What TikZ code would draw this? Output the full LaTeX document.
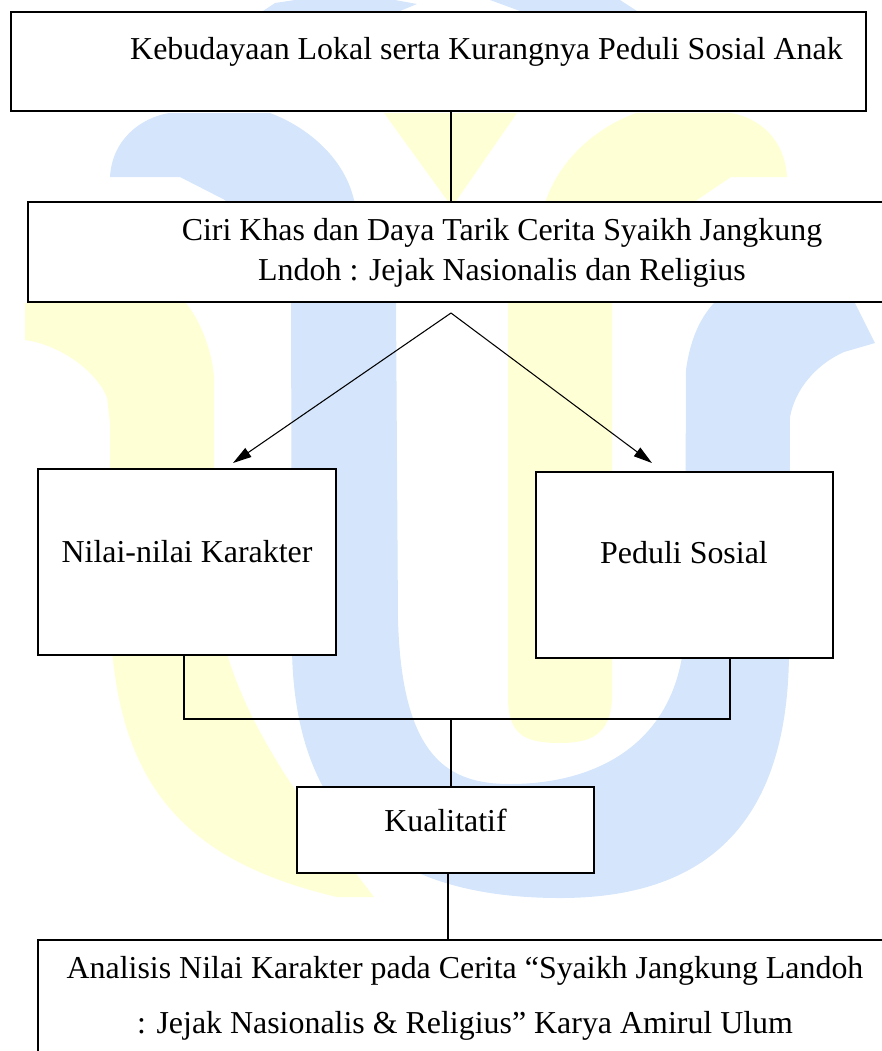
\documentclass[tikz,border=0pt]{standalone}
\usepackage{fontspec}
\setmainfont{Liberation Serif}
\usepackage{tikz}
\usetikzlibrary{arrows.meta,calc}
\definecolor{wmblue}{RGB}{212,229,252}
\definecolor{wmyellow}{RGB}{255,255,214}
\tikzstyle{box}=[draw,fill=white,line width=0.85pt,inner sep=0pt]
\tikzstyle{txt}=[font=\fontsize{12}{15}\selectfont,align=center,inner sep=0pt]
\tikzstyle{link}=[draw,line width=0.65pt]
\tikzstyle{edge}=[draw,line width=0.4pt,-{Triangle[length=7pt,width=4pt]}]
\begin{document}
\begin{tikzpicture}[x=0.376pt,y=-0.376pt]
    \useasboundingbox (0,0) rectangle (882,1051);

    % watermark
    \fill[wmblue] (263,11) -- (275,3) -- (295,0) -- (395,0) -- (417,4) -- (400,11) -- cycle;
    \fill[wmblue] (490,0) -- (620,0) -- (637,11) -- (520,11) -- cycle;
    \fill[wmblue] (169,113) -- (270,113) .. controls (310,128) and (345,160) .. (354,200)
        -- (396,302) -- (398,620) .. controls (402,760) and (450,784) .. (510,784)
        .. controls (600,784) and (685,740) .. (685,620) -- (686,370)
        .. controls (690,340) and (700,318) .. (714,303) -- (855,303) -- (875,343) -- (844,352)
        .. controls (815,365) and (795,390) .. (790,417) -- (789,650)
        .. controls (789,830) and (700,898) .. (560,898) .. controls (400,898) and (295,830) .. (292,650)
        -- (291,302) -- (225,200) -- (180,177) -- (110,177) .. controls (112,140) and (140,118) .. (169,113) -- cycle;
    \fill[wmyellow] (636,113) -- (731,113) .. controls (760,118) and (785,140) .. (787,177)
        -- (731,177) -- (697,200) -- (612,302) -- (612,700) .. controls (610,735) and (590,743) .. (560,743)
        .. controls (525,743) and (509,735) .. (508,700) -- (508,302) -- (546,200)
        .. controls (560,160) and (595,128) .. (636,113) -- cycle;
    \fill[wmyellow] (384,113) -- (517,113) -- (452,207) -- cycle;
    \fill[wmyellow] (25,303) -- (186,303) .. controls (200,320) and (212,350) .. (214,377) -- (214,580)
        .. controls (220,700) and (300,800) .. (374,897) -- (337,897)
        .. controls (180,860) and (110,780) .. (110,600) -- (110,423) -- (107,397)
        .. controls (95,370) and (60,345) .. (25,340) -- cycle;

    \foreach \name/\cx/\cy/\w/\h in {masalah/438.5/61.5/855/99, ciri/469/252/882/100,
        nilai/187/562/298/186, peduli/684.5/565/297/186, kual/445.5/830/297/86, analisis/474/1010/872/140}
        \node[box,minimum width=\w*0.376pt,minimum height=\h*0.376pt] (\name) at (\cx,\cy) {};

    \node[txt] (tmasalah) at (486.5,52) {Kebudayaan Lokal serta Kurangnya Peduli Sosial Anak};
    \node[txt] (tciri) at (502,253) {Ciri Khas dan Daya Tarik Cerita Syaikh Jangkung\\Lndoh : Jejak Nasionalis dan Religius};
    \node[txt] (tnilai) at (187,552) {Nilai-nilai Karakter};
    \node[txt] (tpeduli) at (684,553) {Peduli Sosial};
    \node[txt] (tkual) at (445.5,820) {Kualitatif};
    \node[txt,font=\fontsize{12}{20.7}\selectfont] (tanalisis) at (465,998)
        {Analisis Nilai Karakter pada Cerita “Syaikh Jangkung Landoh\\: Jejak Nasionalis \& Religius” Karya Amirul Ulum};

    \coordinate (stem) at (451,0);
    \coordinate (stemB) at (448,0);
    \coordinate (split) at (451,313);
    \coordinate (tipL) at (233,463);
    \coordinate (tipR) at (652,463);
    \coordinate (joinL) at (184,719);
    \coordinate (joinR) at (730,719);

    \draw[link] (stem |- masalah.south) -- (stem |- ciri.north);
    \foreach \tip in {tipL,tipR}
        \path[edge] (split) -- (\tip);
    \draw[link] (joinL |- nilai.south) -- (joinL) -- (joinR) -- (joinR |- peduli.south);
    \draw[link] (stem |- joinL) -- (stem |- kual.north);
    \draw[link] (stemB |- kual.south) -- (stemB |- analisis.north);

\end{tikzpicture}
\end{document}
